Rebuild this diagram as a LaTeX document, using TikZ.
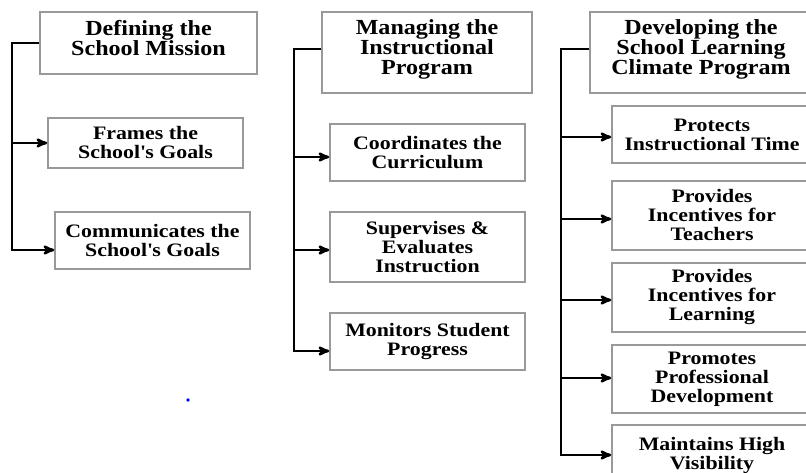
\documentclass[tikz,border=0pt]{standalone}
\usepackage{fontspec}
\setmainfont{Liberation Serif}
\newfontfamily\subfamily[FakeStretch=1.15]{Liberation Serif}
\newfontfamily\headfamily[FakeStretch=1.12]{Liberation Serif}
\newcommand\subfont{\subfamily\bfseries\fontsize{19}{19}\selectfont\lineskiplimit-100pt\relax}
\newcommand\headfont{\headfamily\bfseries\fontsize{21.5}{20}\selectfont\lineskiplimit-100pt\relax}
\usetikzlibrary{arrows}

\begin{document}
\begin{tikzpicture}[x=1pt, y=-1pt,
  box/.style={draw=black!40, line width=1.5pt, fill=white, align=center, inner sep=0pt, font=\subfont},
  head/.style={box, font=\headfont, text depth=10pt},
  link/.style={black, line width=2.5pt},
  arrow/.style={link, ->, >=stealth'}]
\useasboundingbox (0,0) rectangle (806,473);

% Defining the School Mission
\node[head, minimum width=217pt, minimum height=62pt] (mission) at (148.5,43) {Defining the\\School Mission};
\node[box, minimum width=195pt, minimum height=50pt] (frames) at (145.5,143) {Frames the\\School\textquotesingle s Goals};
\node[box, minimum width=195pt, minimum height=57pt] (comm) at (152.5,240.5) {Communicates the\\School\textquotesingle s Goals};

% Managing the Instructional Program
\node[head, minimum width=210pt, minimum height=81pt] (program) at (427,52.5) {Managing the\\Instructional\\Program};
\node[box, minimum width=195pt, minimum height=57pt] (coord) at (427.5,152.5) {Coordinates the\\Curriculum};
\node[box, minimum width=195pt, minimum height=70pt] (superv) at (427.5,247) {Supervises \&\\Evaluates\\Instruction};
\node[box, minimum width=195pt, minimum height=57pt] (monitor) at (427.5,341.5) {Monitors Student\\Progress};

% Developing the School Learning Climate Program
\node[head, minimum width=222pt, minimum height=81pt] (climate) at (701,52.5) {Developing the\\School Learning\\Climate Program};
\node[box, minimum width=200pt, minimum height=57pt] (protect) at (712,134.5) {Protects\\Instructional Time};
\node[box, minimum width=200pt, minimum height=69pt] (teacher) at (712,215.5) {Provides\\Incentives for\\Teachers};
\node[box, minimum width=200pt, minimum height=69pt] (learn) at (712,297.5) {Provides\\Incentives for\\Learning};
\node[box, minimum width=200pt, minimum height=68pt] (promote) at (712,379) {Promotes\\Professional\\Development};
\node[box, minimum width=200pt, minimum height=60pt] (visible) at (712,455) {Maintains High\\Visibility};

% trunks
\coordinate (trunkA) at (12,43);
\coordinate (trunkB) at (294,49);
\coordinate (trunkC) at (561,49);

\draw[arrow] (mission.west) -- (trunkA) |- ([yshift=-9.5pt]comm.west);
\draw[arrow] (trunkA |- frames.west) -- (frames.west);

\draw[arrow] ([yshift=3.5pt]program.west) -- (trunkB) |- ([yshift=-9.5pt]monitor.west);
\foreach \n/\dy in {coord/-4.5, superv/-3}
  \draw[arrow] ([yshift=\dy pt]\n.west -| trunkB) -- ([yshift=\dy pt]\n.west);

\draw[arrow] ([yshift=3.5pt]climate.west) -- (trunkC) |- (visible.west);
\foreach \n/\dy in {protect/-2.5, teacher/-3.5, learn/-2.5, promote/1}
  \draw[arrow] ([yshift=\dy pt]\n.west -| trunkC) -- ([yshift=\dy pt]\n.west);

\fill[blue] (188,400) circle (1.8pt);
\end{tikzpicture}
\end{document}
